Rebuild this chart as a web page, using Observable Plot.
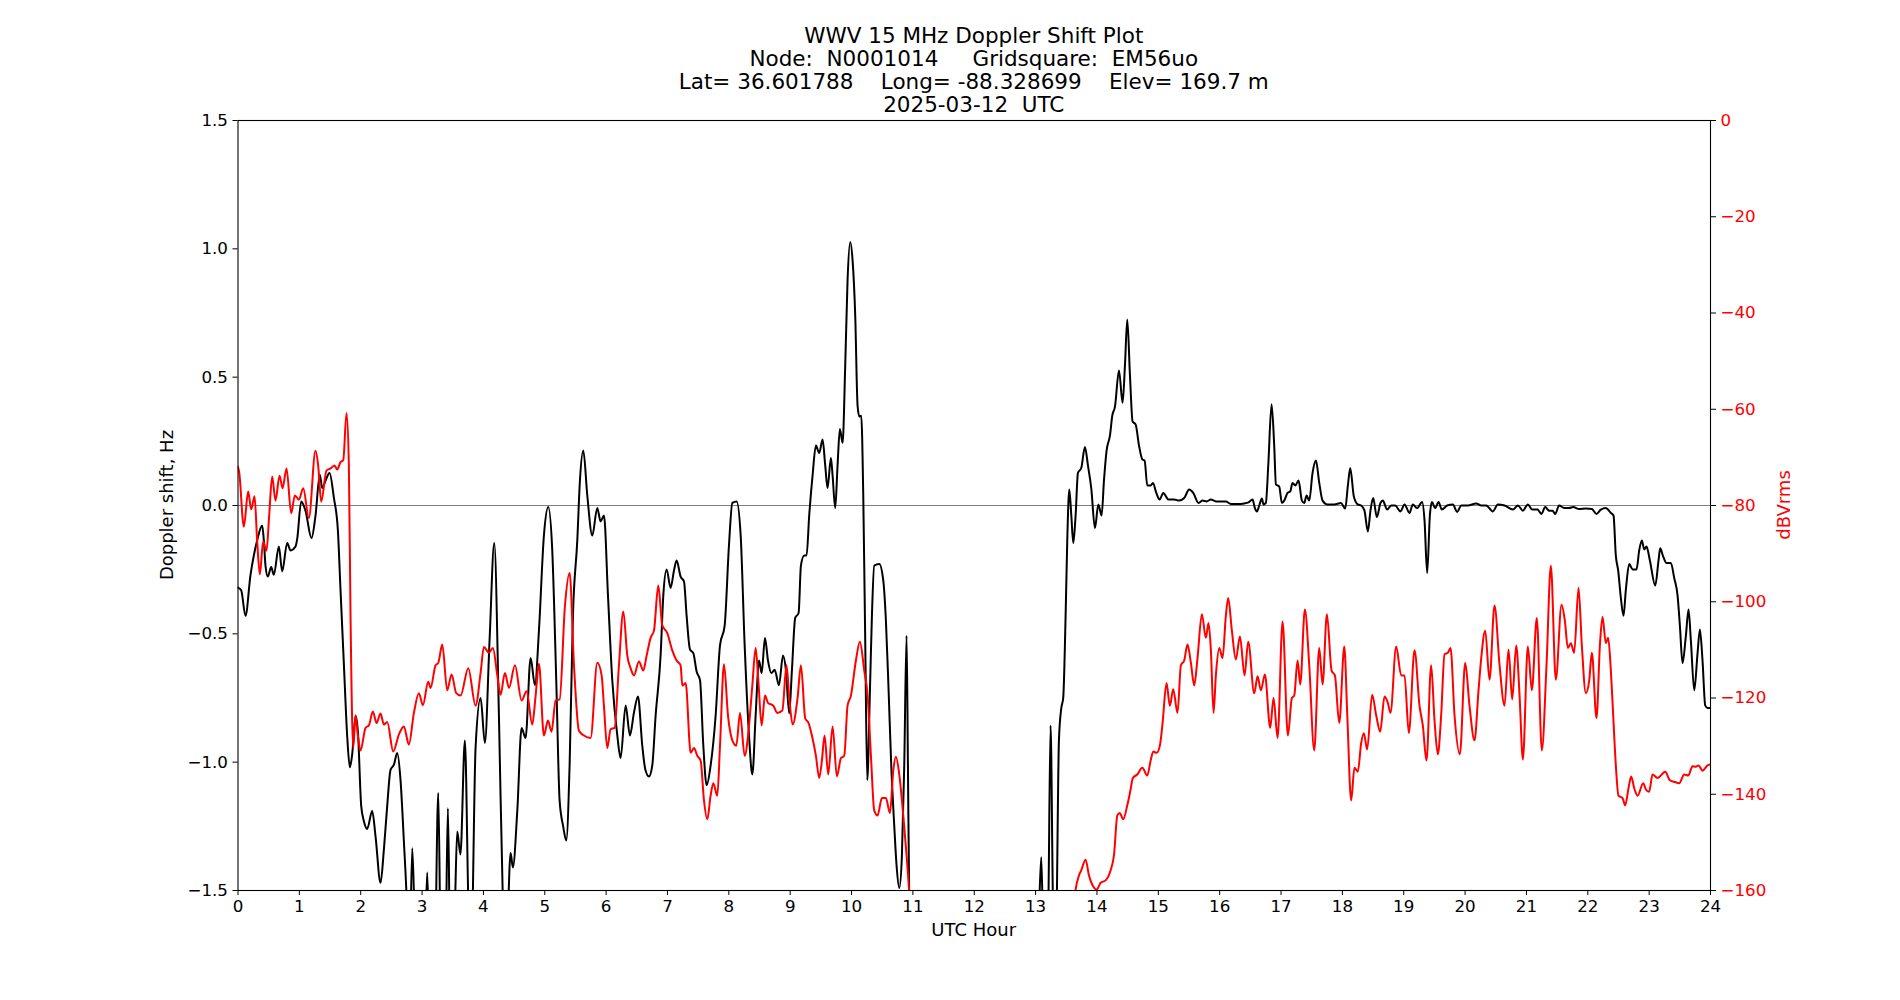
<!DOCTYPE html>
<html>
<head>
<meta charset="utf-8">
<script src="https://cdn.jsdelivr.net/npm/d3@7"></script>
<script src="https://cdn.jsdelivr.net/npm/@observablehq/plot@0.6"></script>
<style>
  html, body { margin: 0; padding: 0; background: #ffffff; }
  #wrap { position: relative; width: 1900px; height: 1000px; font-family: "DejaVu Sans", sans-serif; color: #000; }
  #title { position: absolute; left: 473.75px; width: 1000px; top: 24px; text-align: center; font-size: 21.5px; line-height: 23px; white-space: pre; }
  .lab { position: absolute; white-space: nowrap; font-size: 18px; line-height: 1; transform: translate(-50%, -50%); }
  .rot { transform: translate(-50%, -50%) rotate(-90deg); }
</style>
</head>
<body>
<div id="wrap">
  <div id="chart"></div>
  <div id="title"></div>
  <div class="lab rot" id="ylabL" style="left:167px; top:505px;"></div>
  <div class="lab rot" id="ylabR" style="left:1784px; top:505px; color:#ff0000;"></div>
  <div class="lab" id="xlab" style="left:973.75px; top:930px;"></div>
</div>
<script>
// ---------- text ----------
const titleLines = [
  "WWV 15 MHz Doppler Shift Plot",
  "Node:  N0001014     Gridsquare:  EM56uo",
  "Lat= 36.601788    Long= -88.328699    Elev= 169.7 m",
  "2025-03-12  UTC"
];
const xLabel = "UTC Hour";
const yLabelLeft = "Doppler shift, Hz";
const yLabelRight = "dBVrms";

// ---------- tick values ----------
const xTicks = d3.range(0, 25);
const yTicks = [-1.5, -1.0, -0.5, 0.0, 0.5, 1.0, 1.5];
const dbTicks = [0, -20, -40, -60, -80, -100, -120, -140, -160];

// ---------- Doppler shift series (Hz) ----------
const dopplerHours = [
0.0,0.052,0.122,0.204,0.258,0.312,0.394,0.421,0.448,0.486,0.541,0.584,0.666,0.720,0.802,0.856,0.937,0.965,1.030,1.100,
1.198,1.263,1.334,1.372,1.427,1.492,1.563,1.628,1.671,1.726,1.780,1.823,1.861,1.916,1.954,2.008,2.052,2.106,2.187,2.242,
2.323,2.378,2.432,2.486,2.541,2.595,2.649,2.704,2.747,2.79,2.840,2.878,2.95,3.05,3.084,3.12,3.20,3.264,3.31,3.38,
3.421,3.46,3.53,3.573,3.625,3.698,3.76,3.80,3.872,3.954,4.024,4.100,4.177,4.253,4.318,4.37,4.443,4.48,4.552,4.622,
4.687,4.769,4.840,4.905,4.986,5.057,5.122,5.187,5.242,5.30,5.350,5.405,5.459,5.530,5.573,5.628,5.693,5.774,5.856,5.91,
5.965,6.03,6.10,6.182,6.236,6.318,6.388,6.453,6.519,6.589,6.64,6.698,6.752,6.807,6.888,6.932,6.986,7.051,7.106,7.149,
7.214,7.269,7.312,7.367,7.421,7.475,7.530,7.584,7.638,7.703,7.785,7.856,7.932,8.002,8.057,8.127,8.193,8.258,8.329,8.383,
8.437,8.492,8.535,8.589,8.638,8.693,8.747,8.817,8.883,8.93,8.984,9.028,9.082,9.137,9.175,9.229,9.267,9.31,9.365,9.419,
9.473,9.528,9.571,9.609,9.664,9.691,9.734,9.772,9.81,9.854,9.897,9.935,9.979,10.017,10.06,10.098,10.126,10.158,10.191,10.223,
10.256,10.3,10.332,10.37,10.452,10.517,10.56,10.604,10.647,10.696,10.734,10.778,10.821,10.859,10.897,10.919,10.94,11.0,13.0,13.054,
13.092,13.13,13.2,13.244,13.288,13.33,13.38,13.418,13.45,13.489,13.516,13.549,13.582,13.614,13.652,13.69,13.744,13.804,13.853,13.907,
13.967,14.022,14.076,14.114,14.157,14.212,14.25,14.293,14.359,14.418,14.456,14.494,14.538,14.581,14.63,14.685,14.739,14.777,14.82,14.875,
14.913,14.967,15.021,15.081,15.167,15.259,15.34,15.422,15.503,15.569,15.656,15.721,15.786,15.857,15.938,16.02,16.101,16.183,16.292,16.4,
16.471,16.536,16.574,16.607,16.645,16.688,16.715,16.753,16.792,16.846,16.889,16.917,16.971,17.014,17.052,17.107,17.15,17.188,17.232,17.286,
17.34,17.378,17.417,17.46,17.514,17.569,17.623,17.677,17.759,17.868,17.976,18.046,18.09,18.128,18.187,18.252,18.306,18.36,18.415,18.458,
18.502,18.562,18.621,18.659,18.73,18.795,18.86,18.947,19.013,19.094,19.148,19.219,19.3,19.339,19.382,19.426,19.458,19.513,19.567,19.621,
19.708,19.801,19.871,19.937,20.045,20.181,20.263,20.344,20.453,20.534,20.643,20.779,20.86,20.942,21.023,21.094,21.18,21.245,21.305,21.37,
21.425,21.468,21.533,21.615,21.697,21.762,21.86,21.968,22.066,22.142,22.213,22.294,22.376,22.419,22.457,22.495,22.539,22.582,22.62,22.675,
22.729,22.794,22.838,22.881,22.919,22.957,23.012,23.099,23.153,23.18,23.229,23.283,23.354,23.408,23.463,23.501,23.544,23.599,23.642,23.68,
23.735,23.789,23.827,23.87,23.914,23.952,24.0
];
const dopplerHz = [
-0.32,-0.33,-0.43,-0.27,-0.195,-0.136,-0.078,-0.136,-0.234,-0.277,-0.24,-0.27,-0.16,-0.257,-0.146,-0.175,-0.16,-0.13,0.016,-0.02,
-0.127,-0.04,0.12,0.068,0.097,0.127,0.03,-0.097,-0.33,-0.62,-0.9,-1.02,-0.97,-0.82,-0.88,-1.17,-1.23,-1.26,-1.19,-1.29,
-1.47,-1.34,-1.17,-1.03,-1.01,-0.964,-1.07,-1.31,-1.52,-1.85,-1.335,-1.6,-1.9,-1.7,-1.43,-1.75,-1.85,-1.12,-1.8,-1.75,
-1.18,-1.75,-1.6,-1.27,-1.36,-0.916,-1.6,-1.75,-0.945,-0.75,-0.925,-0.526,-0.146,-0.82,-1.55,-1.75,-1.354,-1.41,-1.19,-0.867,
-0.906,-0.594,-0.70,-0.487,-0.117,-0.006,-0.175,-0.68,-1.15,-1.25,-1.305,-1.01,-0.43,-0.136,0.097,0.214,0.039,-0.117,-0.01,-0.062,
-0.039,-0.35,-0.68,-0.896,-0.984,-0.779,-0.896,-0.808,-0.744,-0.935,-1.03,-1.056,-1.013,-0.818,-0.584,-0.35,-0.249,-0.321,-0.253,-0.214,
-0.277,-0.296,-0.43,-0.561,-0.575,-0.647,-0.68,-0.935,-1.09,-1.013,-0.818,-0.545,-0.468,-0.156,0.01,0.016,-0.117,-0.545,-0.896,-1.048,
-0.818,-0.604,-0.653,-0.516,-0.604,-0.653,-0.64,-0.70,-0.584,-0.64,-0.81,-0.643,-0.438,-0.419,-0.234,-0.195,-0.195,-0.039,0.117,0.234,
0.205,0.257,0.156,0.068,0.185,0.117,-0.01,0.156,0.298,0.244,0.545,0.877,1.027,0.955,0.74,0.39,0.347,0.35,0.039,-0.526,
-1.07,-0.72,-0.43,-0.234,-0.228,-0.292,-0.448,-0.72,-1.013,-1.247,-1.403,-1.49,-1.364,-1.013,-0.507,-1.013,-1.53,-2.0,-2.0,-1.6,
-1.37,-1.7,-1.65,-0.857,-1.6,-1.7,-0.916,-0.79,-0.75,-0.43,-0.136,0.062,-0.039,-0.146,-0.039,0.127,0.146,0.228,0.156,0.068,
-0.088,0.004,-0.039,0.097,0.214,0.273,0.35,0.384,0.526,0.4,0.545,0.725,0.506,0.327,0.316,0.234,0.18,0.175,0.078,0.078,
0.088,0.049,0.023,0.049,0.023,0.023,0.019,0.029,0.062,0.049,0.01,0.019,0.016,0.023,0.016,0.016,0.016,0.006,0.006,0.008,
0.012,0.023,-0.01,-0.023,0.0,0.027,0.004,0.01,0.156,0.394,0.234,0.082,0.074,0.01,0.019,0.049,0.055,0.088,0.078,0.097,
0.019,0.01,0.039,0.019,0.127,0.175,0.088,0.019,0.004,0.004,0.01,-0.012,0.078,0.146,0.035,0.004,0.0,-0.02,-0.101,-0.02,
0.029,-0.045,0.01,0.019,-0.016,0.0,0.0,-0.023,0.004,-0.029,0.004,-0.01,0.014,-0.058,-0.263,-0.039,0.014,-0.01,0.014,-0.016,
0.0,0.004,-0.025,0.0,0.0,0.008,0.0,0.0,-0.023,0.004,0.0,-0.016,0.0,-0.02,0.004,-0.016,-0.016,-0.033,-0.006,-0.02,
-0.02,-0.033,0.0,-0.01,-0.01,-0.006,-0.014,-0.012,-0.014,-0.033,-0.016,-0.01,-0.029,-0.039,-0.195,-0.253,-0.36,-0.43,-0.33,-0.228,
-0.249,-0.249,-0.175,-0.136,-0.171,-0.16,-0.214,-0.312,-0.214,-0.167,-0.199,-0.224,-0.224,-0.282,-0.35,-0.468,-0.614,-0.507,-0.405,-0.526,
-0.72,-0.575,-0.483,-0.604,-0.779,-0.789,-0.789
];

// ---------- signal level series (dBVrms) ----------
const powerHours = [
0.0,0.02,0.095,0.166,0.215,0.27,0.312,0.356,0.41,0.465,0.508,0.557,0.611,0.677,0.726,0.791,0.867,0.927,0.992,1.063,
1.155,1.263,1.307,1.356,1.443,1.508,1.573,1.617,1.671,1.715,1.769,1.807,1.834,1.878,1.916,1.954,1.997,2.079,2.133,2.198,
2.258,2.323,2.378,2.432,2.53,2.622,2.704,2.785,2.867,2.948,3.014,3.1,3.139,3.22,3.264,3.329,3.41,3.481,3.557,3.628,
3.753,3.872,3.954,4.008,4.09,4.155,4.226,4.28,4.35,4.416,4.514,4.622,4.704,4.796,4.851,4.905,4.986,5.052,5.11,5.177,
5.242,5.329,5.405,5.476,5.557,5.639,5.747,5.856,5.927,5.964,6.019,6.073,6.138,6.209,6.28,6.345,6.399,6.453,6.535,6.606,
6.66,6.725,6.78,6.85,6.915,6.997,7.078,7.149,7.214,7.242,7.296,7.378,7.432,7.486,7.54,7.595,7.649,7.703,7.747,7.812,
7.856,7.921,7.986,8.057,8.122,8.182,8.258,8.329,8.383,8.437,8.481,8.535,8.589,8.638,8.725,8.79,8.872,8.94,8.985,9.04,
9.12,9.175,9.245,9.3,9.354,9.419,9.473,9.517,9.56,9.62,9.691,9.761,9.827,9.881,9.935,9.99,10.071,10.136,10.207,10.262,
10.316,10.37,10.424,10.495,10.56,10.626,10.68,10.723,10.778,10.843,10.897,10.94,11.0,13.5,13.63,13.652,13.706,13.744,13.815,13.87,
13.924,13.994,14.06,14.141,14.223,14.277,14.332,14.37,14.429,14.494,14.538,14.587,14.657,14.739,14.82,14.875,14.918,14.973,15.027,15.068,
15.134,15.188,15.243,15.313,15.368,15.422,15.476,15.531,15.585,15.639,15.71,15.775,15.819,15.857,15.9,15.938,15.993,16.047,16.101,16.139,
16.199,16.264,16.33,16.406,16.465,16.563,16.618,16.672,16.737,16.824,16.878,16.944,17.025,17.112,17.177,17.215,17.27,17.313,17.389,17.46,
17.541,17.623,17.677,17.748,17.824,17.878,17.949,18.031,18.08,18.143,18.197,18.252,18.306,18.35,18.404,18.485,18.551,18.616,18.687,18.741,
18.784,18.877,18.958,19.013,19.083,19.176,19.257,19.311,19.371,19.447,19.502,19.556,19.61,19.665,19.719,19.763,19.828,19.915,20.002,20.072,
20.154,20.219,20.263,20.328,20.398,20.48,20.562,20.643,20.708,20.768,20.833,20.888,20.942,21.023,21.088,21.169,21.251,21.327,21.398,21.479,
21.572,21.626,21.675,21.724,21.778,21.849,21.903,21.968,22.023,22.066,22.142,22.197,22.24,22.294,22.332,22.376,22.414,22.457,22.5,22.566,
22.61,22.664,22.707,22.756,22.811,22.903,22.947,23.0,23.055,23.137,23.262,23.338,23.408,23.49,23.572,23.637,23.707,23.762,23.805,23.87,
23.952,24.0
];
const powerDb = [
-72.0,-73.2,-84.4,-77.1,-80.8,-78.1,-87.3,-94.3,-87.5,-89.4,-82.1,-74.0,-79.0,-73.8,-76.4,-72.3,-81.6,-77.9,-78.8,-76.4,
-82.6,-68.6,-71.7,-79.2,-72.7,-72.3,-71.7,-72.5,-71.0,-70.6,-60.8,-71.7,-102.9,-130.4,-123.6,-127.8,-130.9,-126.2,-125.7,-122.8,
-125.2,-123.2,-125.5,-125.0,-131.1,-127.6,-125.9,-129.7,-123.1,-119.0,-121.5,-116.6,-117.9,-113.2,-112.7,-108.9,-118.4,-115.1,-119.0,-119.5,
-113.8,-121.6,-114.8,-109.4,-110.6,-109.6,-115.3,-119.3,-114.8,-117.9,-113.2,-120.5,-118.6,-125.5,-119.5,-112.9,-127.8,-124.7,-127.0,-120.5,
-120.3,-100.8,-94.0,-113.2,-126.8,-127.8,-128.3,-112.7,-115.3,-121.6,-130.4,-126.5,-126.2,-113.2,-102.0,-111.2,-113.8,-115.3,-112.4,-114.3,
-111.2,-107.5,-106.0,-96.6,-104.9,-106.5,-110.1,-112.2,-113.2,-117.4,-116.9,-131.4,-130.4,-132.0,-133.0,-141.3,-145.2,-140.3,-137.7,-140.3,
-129.9,-113.0,-123.6,-128.8,-129.9,-123.1,-132.0,-125.7,-117.4,-109.6,-116.4,-125.7,-119.5,-121.0,-121.6,-123.1,-122.6,-113.2,-120.0,-125.5,
-120.0,-113.2,-124.2,-125.2,-127.8,-132.0,-136.6,-133.0,-127.8,-135.9,-125.9,-136.3,-132.5,-132.0,-121.6,-119.5,-112.2,-108.3,-114.3,-119.5,
-132.0,-143.4,-144.4,-140.8,-140.8,-143.9,-135.1,-132.2,-135.9,-144.4,-152.7,-160.5,-175.0,-175.0,-162.0,-159.8,-156.9,-155.8,-153.6,-156.9,
-158.8,-159.8,-158.4,-157.9,-155.8,-152.7,-144.4,-143.9,-145.2,-142.3,-139.7,-136.6,-135.9,-134.5,-136.1,-133.0,-131.1,-131.4,-129.8,-125.4,
-116.9,-121.6,-118.2,-123.1,-113.2,-112.2,-108.9,-112.7,-117.4,-111.7,-102.6,-107.5,-104.4,-110.1,-123.1,-115.3,-109.6,-111.7,-102.9,-99.2,
-106.0,-112.0,-107.2,-115.3,-108.3,-119.0,-115.5,-118.4,-115.1,-126.2,-120.0,-128.3,-104.1,-127.8,-120.0,-119.5,-112.2,-117.2,-101.6,-113.2,
-130.9,-109.6,-117.2,-102.6,-114.3,-115.3,-125.2,-109.3,-123.6,-141.3,-134.5,-135.3,-129.4,-127.3,-130.7,-119.3,-123.6,-127.0,-119.7,-121.0,
-123.1,-109.3,-115.3,-115.3,-127.3,-110.1,-121.6,-125.7,-133.0,-113.2,-124.7,-131.7,-123.6,-110.9,-110.6,-109.6,-123.6,-131.7,-112.7,-121.6,
-128.8,-118.4,-111.7,-106.0,-116.2,-100.8,-113.2,-121.6,-109.9,-120.3,-109.1,-119.5,-132.8,-109.3,-118.4,-103.4,-130.9,-113.2,-92.5,-116.2,
-100.6,-103.9,-109.6,-108.6,-110.6,-97.1,-109.1,-119.0,-116.4,-110.6,-124.2,-109.1,-103.1,-108.6,-107.5,-114.3,-123.6,-134.0,-140.3,-140.8,
-142.3,-138.7,-136.3,-138.7,-140.3,-137.7,-139.0,-139.5,-135.9,-136.6,-135.3,-137.1,-137.4,-137.7,-135.9,-136.1,-134.2,-134.3,-134.0,-135.1,
-134.0,-133.8
];

// ---------- right-axis mapping (dB range [-160, 0] onto Hz range [-1.5, 1.5]) ----------
const dbDomain = [-160, 0];
const hzDomain = [-1.5, 1.5];
const dbToHz = d3.scaleLinear().domain(dbDomain).range(hzDomain);

const minusFmt = (v, digits) => {
  const s = Math.abs(v).toFixed(digits);
  return (v < 0 && Number(s) !== 0 ? "\u2212" : "") + s;
};

const dopplerData = dopplerHours.map((h, i) => ({hour: h, value: dopplerHz[i]}));
const powerData = powerHours.map((h, i) => ({hour: h, value: dbToHz(powerDb[i])}));

const chart = Plot.plot({
  width: 1900,
  height: 1000,
  marginLeft: 237.5,
  marginRight: 190,
  marginTop: 120,
  marginBottom: 110,
  style: {fontFamily: "DejaVu Sans", fontSize: "16.7px", background: "#ffffff", color: "#000000", overflow: "visible"},
  x: {domain: [0, 24]},
  y: {domain: hzDomain},
  marks: [
    Plot.ruleY([0], {stroke: "#808080", strokeWidth: 1.2}),
    Plot.line(dopplerData, {x: "hour", y: "value", stroke: "#000000", strokeWidth: 2, curve: "monotone-x", clip: true}),
    Plot.line(powerData, {x: "hour", y: "value", stroke: "#ff0000", strokeWidth: 2, curve: "monotone-x", clip: true}),
    Plot.frame({stroke: "#000000", strokeWidth: 1.1}),
    Plot.axisX(xTicks, {anchor: "bottom", tickSize: 5, tickPadding: 5, label: null, tickFormat: d => String(d)}),
    Plot.axisY(yTicks, {anchor: "left", tickSize: 5, tickPadding: 5, label: null, tickFormat: d => minusFmt(d, 1)}),
    Plot.axisY(dbTicks.map(dbToHz), {anchor: "right", tickSize: 5, tickPadding: 5, label: null, stroke: "#000000", fill: "#ff0000",
      tickFormat: y => minusFmt(Math.round(dbToHz.invert(y)), 0)})
  ]
});

document.getElementById("chart").appendChild(chart);
document.getElementById("title").textContent = titleLines.join("\n");
document.getElementById("ylabL").textContent = yLabelLeft;
document.getElementById("ylabR").textContent = yLabelRight;
document.getElementById("xlab").textContent = xLabel;
</script>
</body>
</html>
